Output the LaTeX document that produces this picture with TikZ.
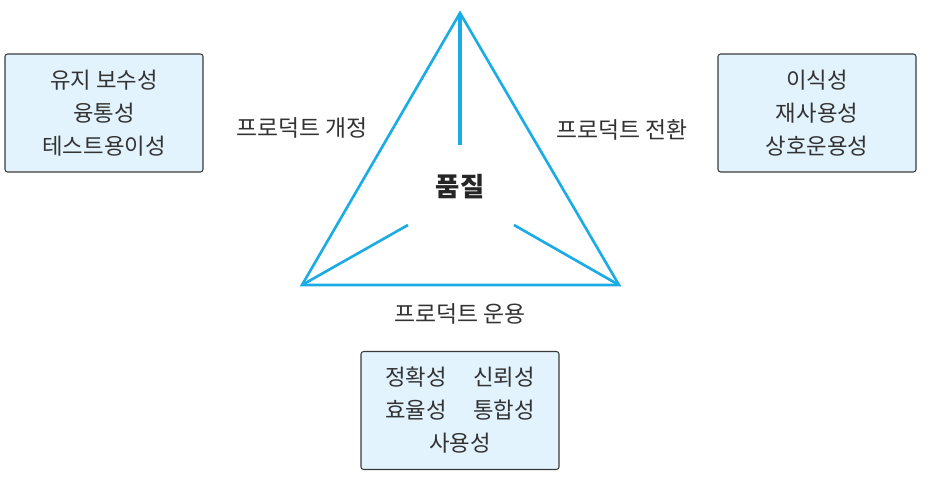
\documentclass[tikz,border=0pt]{standalone}
\usepackage{fontspec}
\setmainfont{Noto Sans CJK KR}
\usetikzlibrary{positioning,calc}
\definecolor{edgeblue}{HTML}{1BACE6}
\definecolor{boxfill}{HTML}{E2F3FD}
\definecolor{boxline}{HTML}{3A3A3A}

\begin{document}
\begin{tikzpicture}[
      qbox/.style={draw=boxline, fill=boxfill, rounded corners=1.5pt, line width=0.6pt,
                   minimum width=3.96cm, minimum height=2.36cm, align=center,
                   font=\fontsize{12.7}{18.8}\selectfont, text=black!80},
      lbl/.style={font=\fontsize{13}{15}\selectfont, text=black!80},
      tri/.style={draw=edgeblue, line width=1.5pt, line join=miter},
      spoke/.style={draw=edgeblue, line width=1.5pt}
    ]
    \useasboundingbox (0,0) rectangle (18.68,9.76);

    % triangle corners
    \coordinate (top) at (9.2,9.5);
    \coordinate (bl) at (6.04,4.06);
    \coordinate (br) at (12.38,4.06);
    \coordinate (topend) at (9.2,6.86);
    \coordinate (blend) at (8.16,5.26);
    \coordinate (brend) at (10.28,5.26);

    \draw[tri] (top) -- (bl) -- (br) -- cycle;
    \draw[spoke, line width=2.3pt] (top) -- (topend);
    \draw[spoke] (bl) -- (blend);
    \draw[spoke] (br) -- (brend);

    \node[lbl, font=\fontsize{15}{17}\selectfont\bfseries, text=black!85] (quality) at (9.2,6.02) {품질};
    \node[lbl] (revision) at (6.04,7.2) {프로덕트 개정};
    \node[lbl] (transition) at (12.44,7.16) {프로덕트 전환};
    \node[lbl] (operation) at (9.2,3.48) {프로덕트 운용};

    \node[qbox] (revbox) at (2.08,7.5) {유지 보수성\\융통성\\테스트용이성};
    \node[qbox] (transbox) at (16.34,7.5) {이식성\\재사용성\\상호운용성};
    \node[qbox] (opbox) at (9.2,1.55) {정확성\hspace{1.2em}신뢰성\\효율성\hspace{1.2em}통합성\\사용성};
  \end{tikzpicture}
\end{document}
